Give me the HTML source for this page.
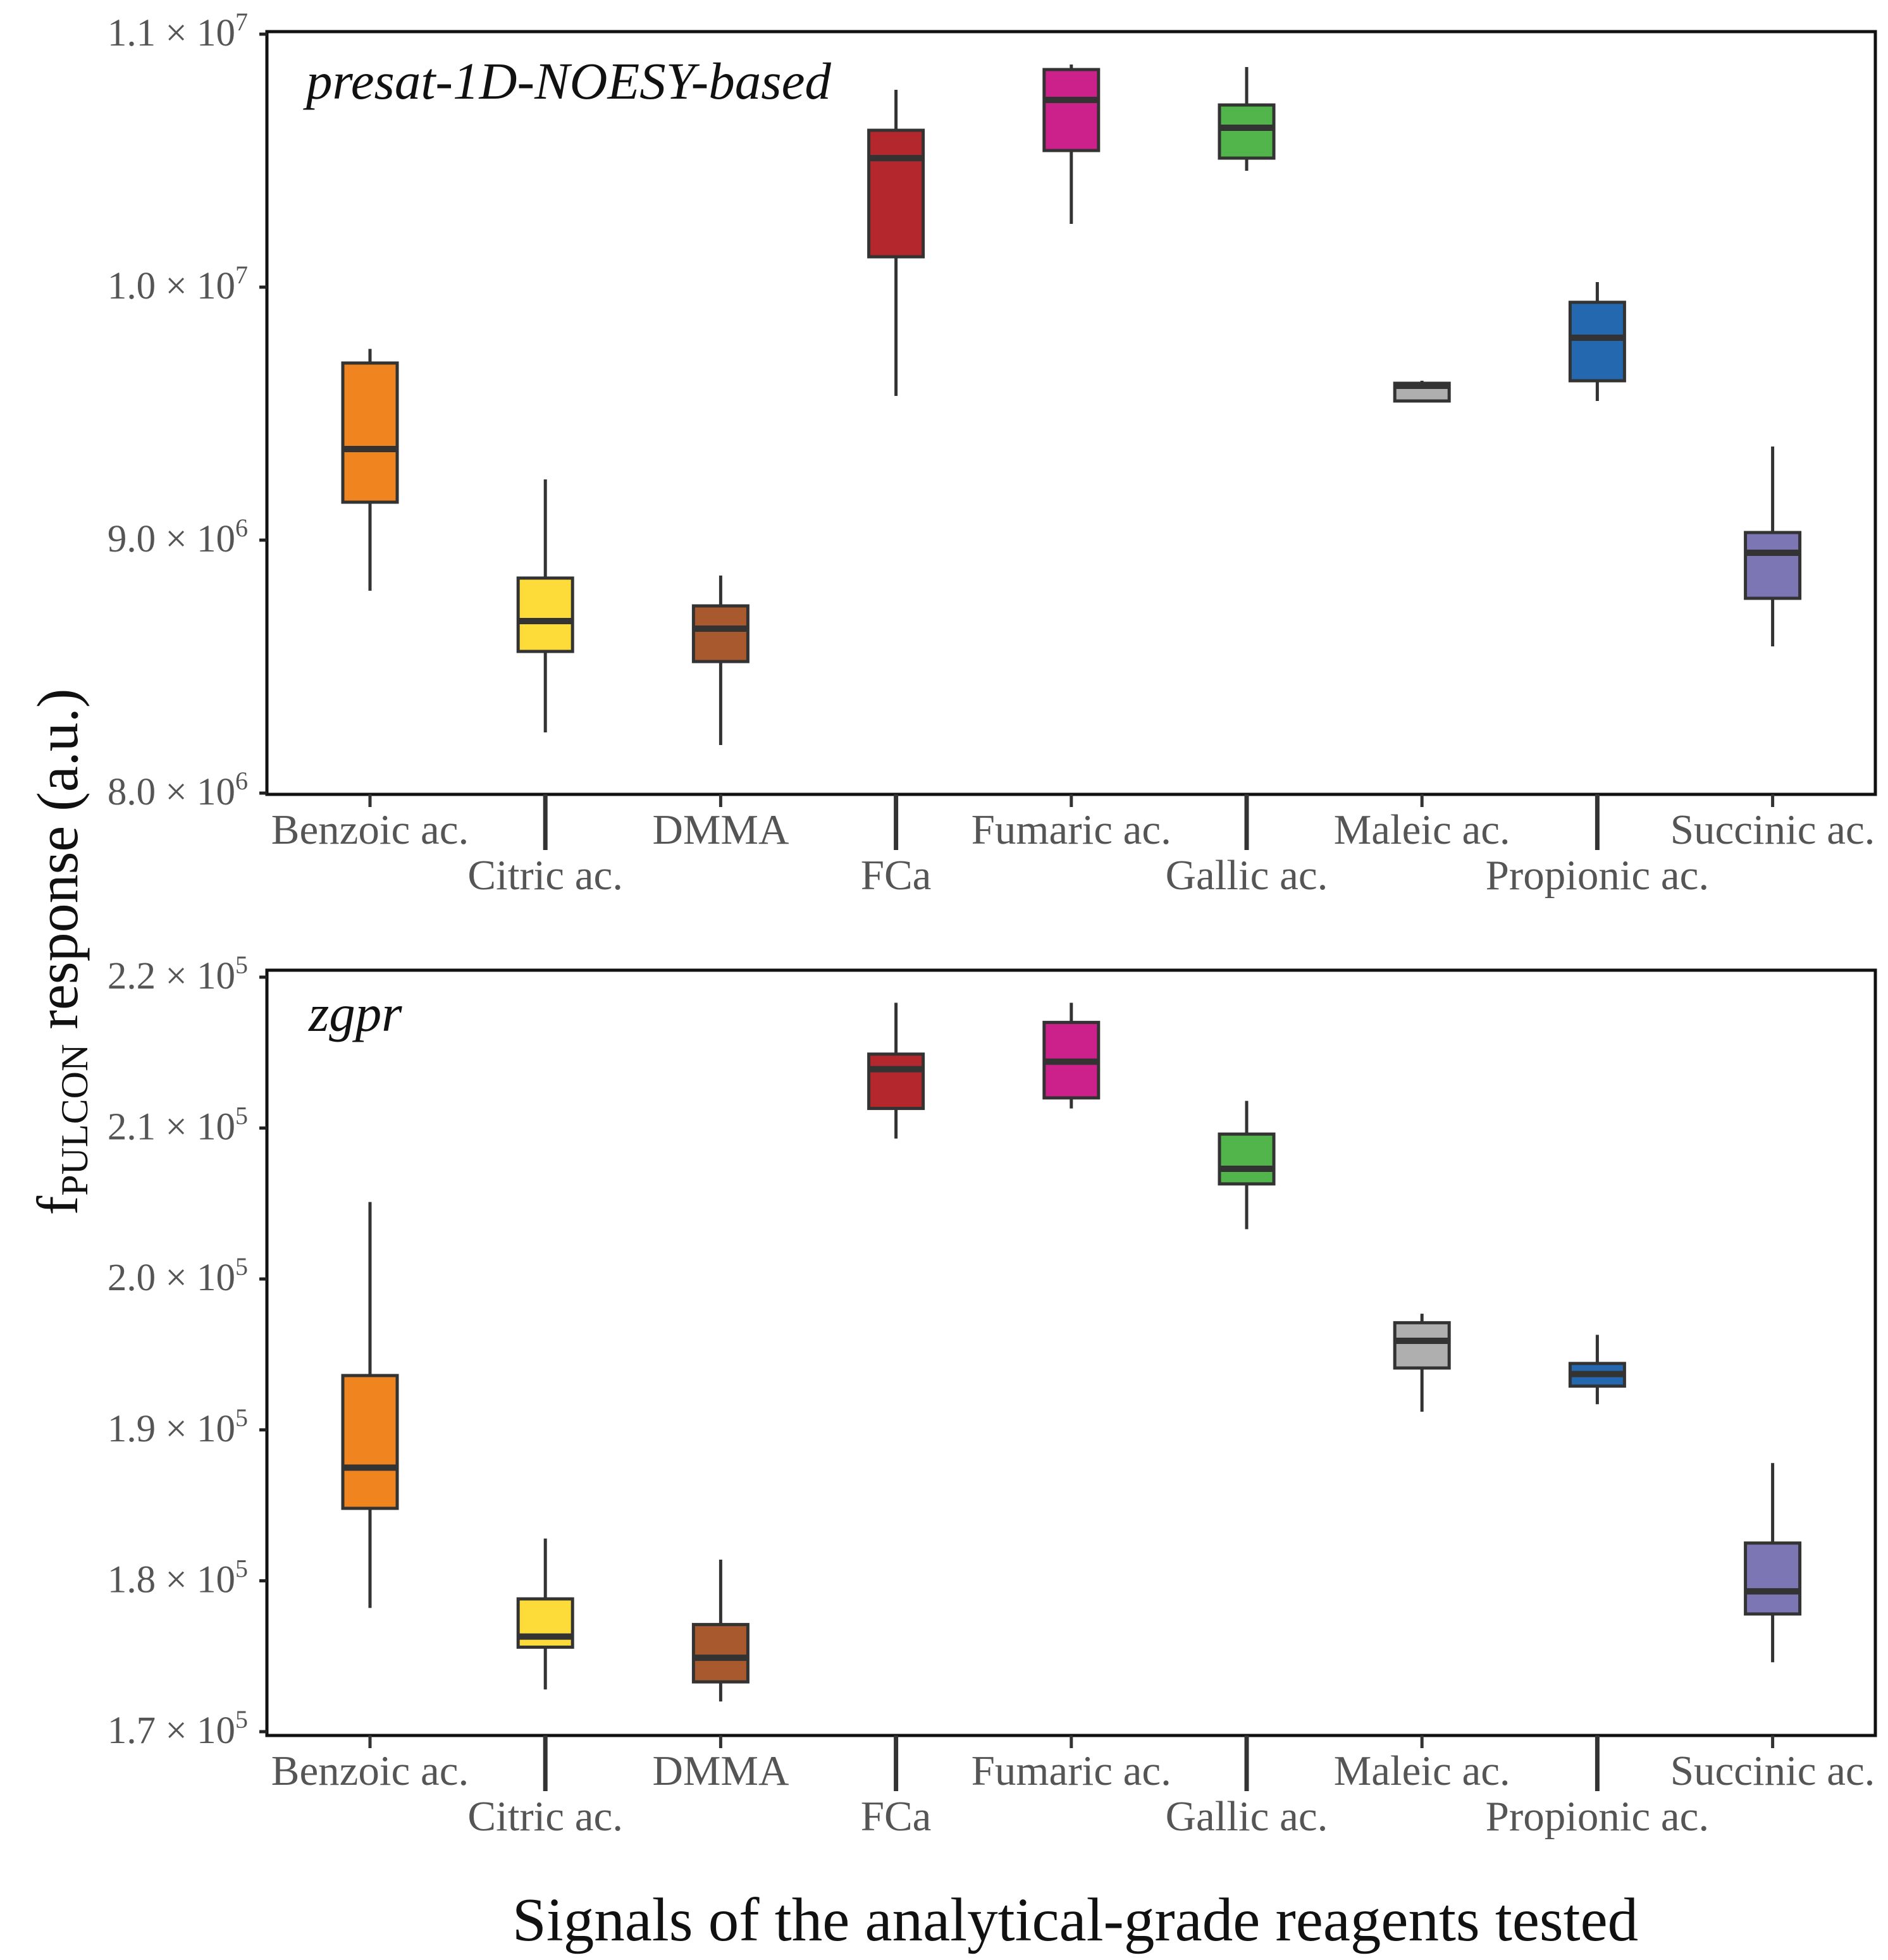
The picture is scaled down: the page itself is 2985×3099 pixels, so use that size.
<!DOCTYPE html>
<html><head><meta charset="utf-8"><style>
html,body{margin:0;padding:0;background:#fff}
svg{display:block}
text{font-family:"Liberation Serif",serif}
</style></head><body>
<svg id="chart" width="2985" height="3099" viewBox="0 0 2985 3099" xmlns="http://www.w3.org/2000/svg">
<text transform="translate(122,1505) rotate(-90)" text-anchor="middle" font-size="92" fill="#111">f<tspan font-size="60" dy="16">PULCON</tspan><tspan dy="-16"> response (a.u.)</tspan></text>
<text x="1700" y="3068" text-anchor="middle" font-size="97" fill="#111">Signals of the analytical-grade reagents tested</text>
</svg>
<script>
const categories=["Benzoic ac.","Citric ac.","DMMA","FCa","Fumaric ac.","Gallic ac.","Maleic ac.","Propionic ac.","Succinic ac."];
const colors=["#F0851F","#FDDC3A","#A85A2E","#B3272D","#CC208A","#52B54B","#AFAFAF","#2469B0","#7C76B5"];
// top panel (x1e6)
const topWhiskerHi=[9.756,9.24,8.86,10.78,10.88,10.87,9.63,10.02,9.37];
const topQ3=[9.70,8.85,8.74,10.62,10.86,10.72,9.62,9.94,9.03];
const topMedian=[9.36,8.68,8.65,10.51,10.74,10.63,9.61,9.80,8.95];
const topQ1=[9.15,8.56,8.52,10.12,10.54,10.51,9.55,9.63,8.77];
const topWhiskerLo=[8.80,8.24,8.19,9.57,10.25,10.46,9.55,9.55,8.58];
const topTicks=[8.0,9.0,10.0,11.0];
const topTickLabels=["8.0 × 10","9.0 × 10","1.0 × 10","1.1 × 10"];
const topTickExp=["6","6","7","7"];
// bottom panel (x1e4)
const botWhiskerHi=[20.51,18.28,18.14,21.83,21.83,21.18,19.77,19.63,18.78];
const botQ3=[19.36,17.88,17.71,21.49,21.70,20.96,19.71,19.44,18.25];
const botMedian=[18.75,17.63,17.49,21.39,21.44,20.73,19.59,19.37,17.93];
const botQ1=[18.48,17.56,17.33,21.13,21.20,20.63,19.41,19.29,17.78];
const botWhiskerLo=[17.82,17.28,17.20,20.93,21.13,20.33,19.12,19.17,17.46];
const botTicks=[17,18,19,20,21,22];
const botTickLabels=["1.7 × 10","1.8 × 10","1.9 × 10","2.0 × 10","2.1 × 10","2.2 × 10"];
const botTickExp=["5","5","5","5","5","5"];

const svg=document.getElementById('chart');
const NS="http://www.w3.org/2000/svg";
function mk(tag,attrs,parent){const e=document.createElementNS(NS,tag);for(const k in attrs)e.setAttribute(k,attrs[k]);(parent||svg).appendChild(e);return e;}
const X0=422,X1=2965;
function xPos(i){return 585+i*277.2;}

function panel(cfg){
  const g=mk('g',{});
  
  
  const y=v=>cfg.yA+(v-cfg.vA)*(cfg.yB-cfg.yA)/(cfg.vB-cfg.vA);
  const fr=mk('rect',{x:X0,y:cfg.top,width:X1-X0,height:cfg.bottom-cfg.top,fill:'none',stroke:'#111','stroke-width':5},g);
  
  
  cfg.ticks.forEach((t,i)=>{
    const ty=y(t);
    const tk=mk('line',{x1:X0-12,x2:X0,y1:ty,y2:ty,stroke:'#222','stroke-width':5},g);
    
    
    const tx=mk('text',{x:X0-30,y:ty+18,'text-anchor':'end','font-size':61,fill:'#555'},g);
    
    
    tx.textContent=cfg.labels[i];
    const sp=mk('tspan',{'font-size':40,dy:-24},tx);
    sp.textContent=cfg.exp[i];
  });
  categories.forEach((c,i)=>{
    const cx=xPos(i);
    const long=i%2===1;
    const tk=mk('line',{x1:cx,x2:cx,y1:cfg.bottom,y2:cfg.bottom+(long?88:20),stroke:'#333','stroke-width':long?7:5},g);
    
    
    const tl=mk('text',{x:cx,y:cfg.bottom+(long?150:78),'text-anchor':'middle','font-size':67,fill:'#555'},g);
    
    
    tl.textContent=c;
    const bg=mk('g',{},g);
    
    
    const w=mk('line',{x1:cx,x2:cx,y1:y(cfg.wh[i]),y2:y(cfg.wl[i]),stroke:'#333','stroke-width':5},bg);
    
    
    const yt=y(cfg.q3[i]),yb=y(cfg.q1[i]);
    const r=mk('rect',{x:cx-43,y:yt,width:86,height:Math.max(yb-yt,1),fill:colors[i],stroke:'#333','stroke-width':5},bg);
    
    
    const m=mk('line',{x1:cx-43,x2:cx+43,y1:y(cfg.med[i]),y2:y(cfg.med[i]),stroke:'#333','stroke-width':10},bg);
    
    
  });
  const t=mk('text',{x:cfg.titleX,y:cfg.titleY,'font-size':83,'font-style':'italic',fill:'#111'},g);
  
  
  t.textContent=cfg.title;
}
panel({name:'top-panel',top:50,bottom:1256,yA:54,vA:11,yB:1254,vB:8,ticks:topTicks,labels:topTickLabels,exp:topTickExp,
  wh:topWhiskerHi,q3:topQ3,med:topMedian,q1:topQ1,wl:topWhiskerLo,title:'presat-1D-NOESY-based',titleX:484,titleY:156});
panel({name:'bottom-panel',top:1534,bottom:2744,yA:1545,vA:22,yB:2738,vB:17,ticks:botTicks,labels:botTickLabels,exp:botTickExp,
  wh:botWhiskerHi,q3:botQ3,med:botMedian,q1:botQ1,wl:botWhiskerLo,title:'zgpr',titleX:488,titleY:1630});
</script>
</body></html>
